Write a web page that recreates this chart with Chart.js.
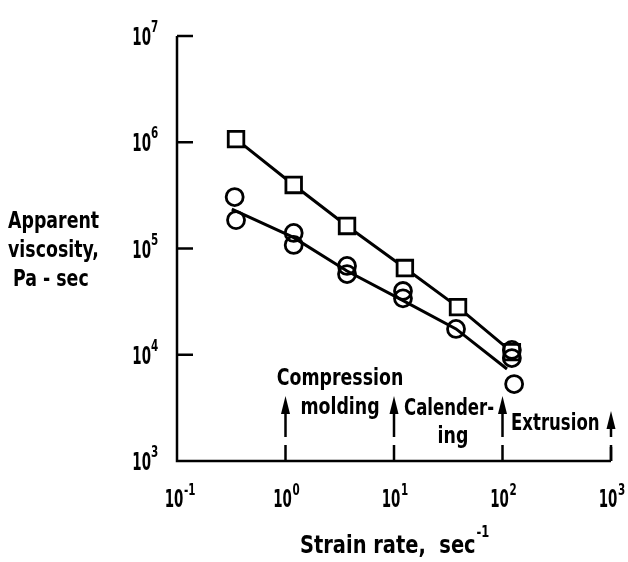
<!DOCTYPE html>
<html>
<head>
<meta charset="utf-8">
<script src="https://cdn.jsdelivr.net/npm/chart.js@4/dist/chart.umd.min.js"></script>
<style>
  html, body { margin: 0; padding: 0; background: #fff; }
  #wrap { width: 628px; height: 562px; position: relative; }
</style>
</head>
<body>
<div id="wrap"><canvas id="viscChart"></canvas></div>
<script>
// strain rate (1/s) vs apparent viscosity (Pa-s)
const squareX = [0.35, 1.19, 3.69, 12.6, 38.9, 122];
const squareY = [1.07e6, 3.96e5, 1.63e5, 6.55e4, 2.81e4, 1.06e4];

const circleX = [0.34, 0.35, 1.19, 1.19, 3.69, 3.69, 12.1, 12.1, 37.3, 122, 122, 128];
const circleY = [3.05e5, 1.85e5, 1.40e5, 1.08e5, 6.85e4, 5.75e4, 3.98e4, 3.4e4, 1.75e4, 1.11e4, 9.3e3, 5.3e3];

// faired curve through the circles
const fitX = [0.32, 1.17, 3.69, 11.9, 37.3, 110];
const fitY = [2.35e5, 1.28e5, 6.14e4, 3.27e4, 1.75e4, 7.35e3];

const xTickExps = [-1, 0, 1, 2, 3];
const yTickExps = [3, 4, 5, 6, 7];

// process ranges marked by arrows on the strain-rate axis
const rangeBounds = [1, 10, 100, 1000];

const FONT = '"DejaVu Sans Condensed", "DejaVu Sans", sans-serif';

function pts(xs, ys) { return xs.map((x, i) => ({ x: x, y: ys[i] })); }

function txt(ctx, s, x, y, size, align, sx) {
    ctx.save();
    ctx.font = 'bold ' + size + 'px ' + FONT;
    ctx.translate(x, y);
    ctx.scale(sx, 1);
    ctx.textAlign = align;
    ctx.textBaseline = 'alphabetic';
    ctx.fillStyle = '#000';
    ctx.fillText(s, 0, 0);
    const w = ctx.measureText(s).width * sx;
    ctx.restore();
    return w;
}

const figurePlugin = {
    id: 'figure',
    afterDraw(chart) {
        const ctx = chart.ctx;
        const xs = chart.scales.x, ys = chart.scales.y;
        const left = xs.getPixelForValue(0.1), right = xs.getPixelForValue(1000);
        const top = ys.getPixelForValue(1e7), bottom = ys.getPixelForValue(1e3);

        ctx.save();
        ctx.strokeStyle = '#000';
        ctx.lineWidth = 2.5;
        ctx.lineCap = 'butt';
        // axes
        ctx.beginPath();
        ctx.moveTo(left, top);
        ctx.lineTo(left, bottom);
        ctx.lineTo(right, bottom);
        ctx.stroke();

        // y ticks + labels
        yTickExps.forEach(e => {
            const py = ys.getPixelForValue(Math.pow(10, e));
            if (e > 3) {
                ctx.beginPath();
                ctx.moveTo(left, py);
                ctx.lineTo(left + 16, py);
                ctx.stroke();
            }
            txt(ctx, '10', 151, py + 9, 24, 'right', 0.62);
            txt(ctx, String(e), 151, py - 4, 16, 'left', 0.72);
        });

        // x tick at right end
        ctx.beginPath();
        ctx.moveTo(right, bottom);
        ctx.lineTo(right, bottom - 14);
        ctx.stroke();

        // x tick labels
        xTickExps.forEach(e => {
            const px = xs.getPixelForValue(Math.pow(10, e));
            txt(ctx, '10', px - 3, 507, 24, 'center', 0.62);
            txt(ctx, String(e), px + 7, 495, 16, 'left', 0.72);
        });

        // arrows marking process ranges
        ctx.fillStyle = '#000';
        rangeBounds.forEach((v, i) => {
            const px = xs.getPixelForValue(v);
            const tip = (i === rangeBounds.length - 1) ? bottom - 50 : bottom - 65;
            ctx.lineWidth = 2.5;
            ctx.beginPath();
            ctx.moveTo(px, tip + 12);
            ctx.lineTo(px, bottom - 24);
            ctx.moveTo(px, bottom - 16);
            ctx.lineTo(px, bottom);
            ctx.stroke();
            ctx.beginPath();
            ctx.moveTo(px, tip);
            ctx.lineTo(px - 4.5, tip + 18);
            ctx.lineTo(px + 4.5, tip + 18);
            ctx.closePath();
            ctx.fill();
        });

        // range labels
        txt(ctx, 'Compression', 340, 385, 23, 'center', 0.84);
        txt(ctx, 'molding', 340, 414, 23, 'center', 0.84);
        txt(ctx, 'Calender-', 404, 415, 23, 'left', 0.8);
        txt(ctx, 'ing', 453, 443, 23, 'center', 0.84);
        txt(ctx, 'Extrusion', 511, 430, 23, 'left', 0.8);

        // y axis title
        txt(ctx, 'Apparent', 8, 228, 23, 'left', 0.84);
        txt(ctx, 'viscosity,', 8, 257, 23, 'left', 0.84);
        txt(ctx, 'Pa - sec', 13, 286, 23, 'left', 0.84);

        // x axis title
        const w = txt(ctx, 'Strain rate,  sec', 300, 553, 24, 'left', 0.9);
        txt(ctx, '-1', 300 + w + 1, 537, 16, 'left', 0.8);
        ctx.restore();
    }
};

new Chart(document.getElementById('viscChart'), {
    type: 'scatter',
    data: {
        datasets: [
            { data: pts(fitX, fitY), showLine: true, borderColor: '#000', borderWidth: 3, pointRadius: 0, fill: false },
            { data: pts(circleX, circleY), showLine: false, pointStyle: 'circle', pointRadius: 8.5,
              borderColor: '#000', borderWidth: 2.8, backgroundColor: 'rgba(0,0,0,0)' },
            { data: pts(squareX, squareY), showLine: true, borderColor: '#000', borderWidth: 3,
              pointStyle: 'rect', pointRadius: 11, pointBorderWidth: 2.8,
              pointBackgroundColor: '#fff', pointBorderColor: '#000' }
        ]
    },
    options: {
        responsive: true, maintainAspectRatio: false, animation: false,
        layout: { padding: { left: 177, right: 17, top: 36, bottom: 101 } },
        plugins: { legend: { display: false }, tooltip: { enabled: false } },
        scales: {
            x: { type: 'logarithmic', min: 0.1, max: 1000, display: false },
            y: { type: 'logarithmic', min: 1e3, max: 1e7, display: false }
        }
    },
    plugins: [figurePlugin]
});
</script>
</body>
</html>
